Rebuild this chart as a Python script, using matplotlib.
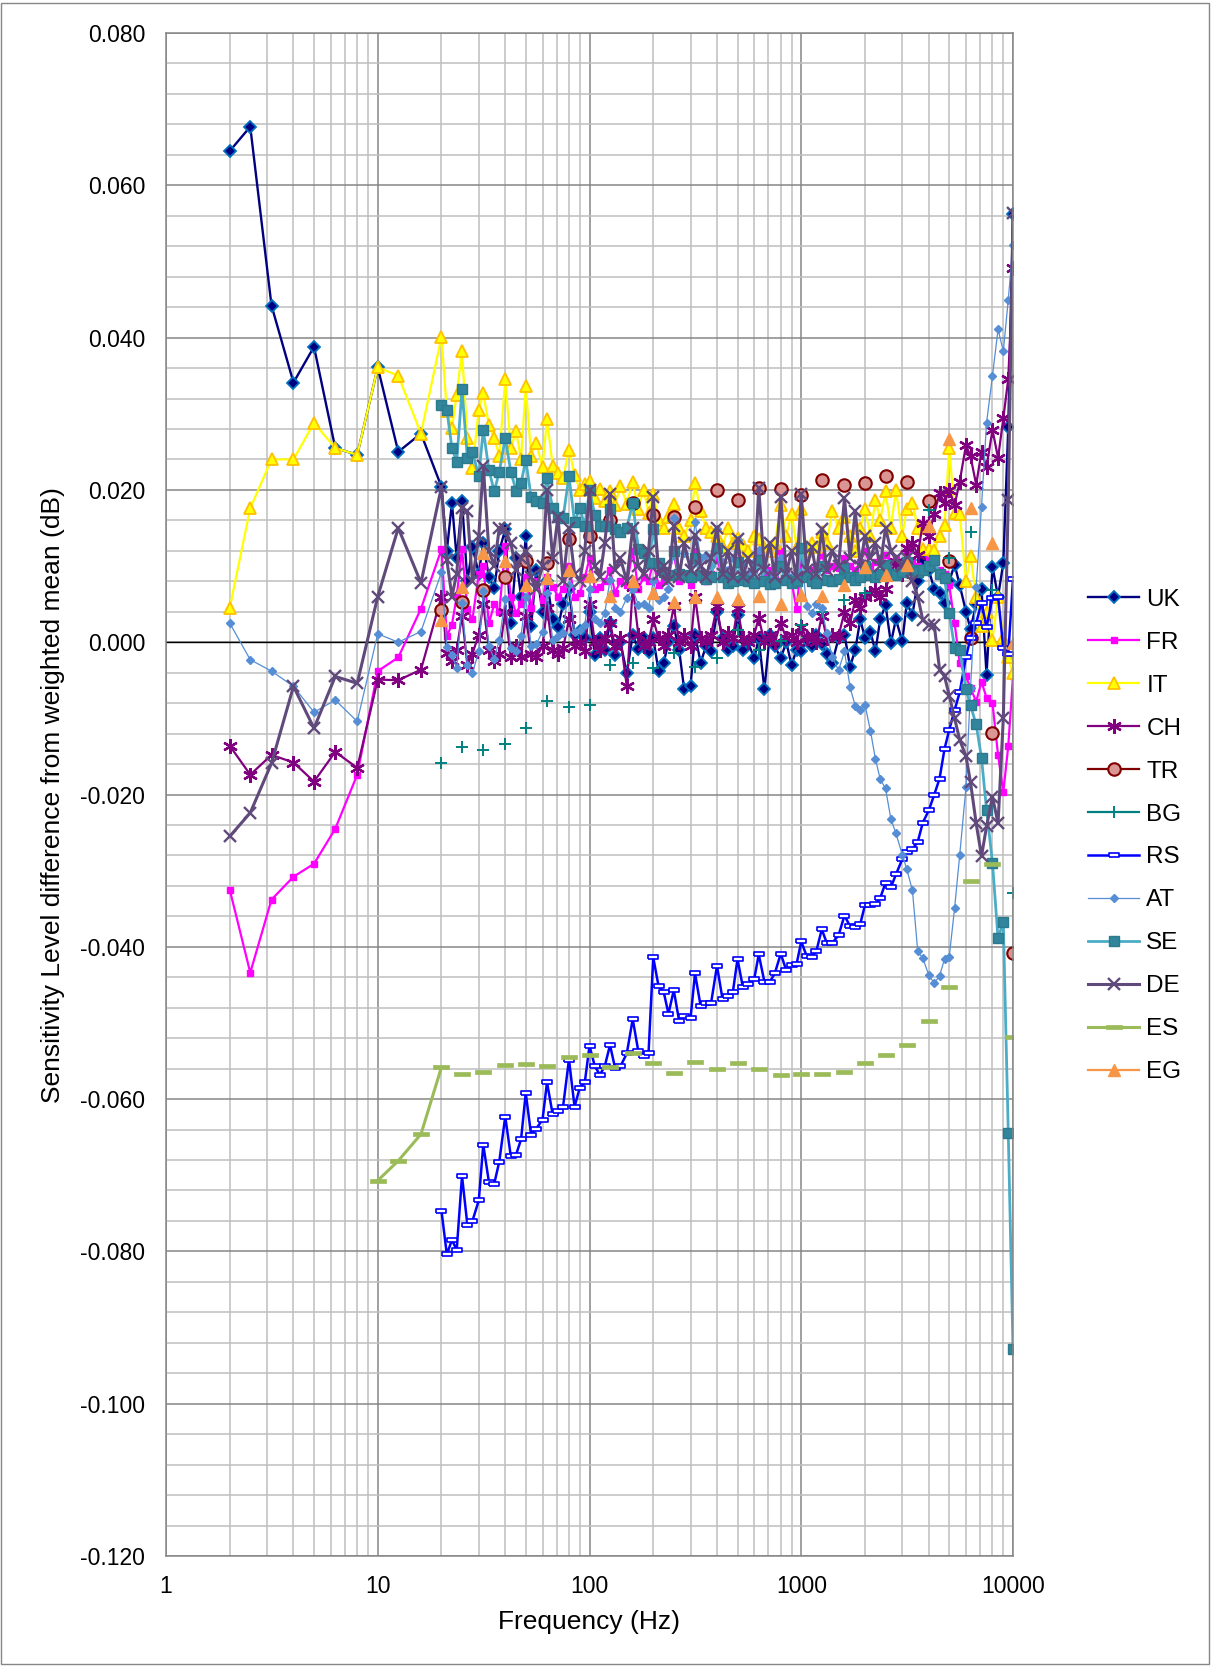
import numpy as np
import matplotlib
matplotlib.use("Agg")
import matplotlib.pyplot as plt
from matplotlib.ticker import FixedLocator, MultipleLocator, LogLocator, FuncFormatter, NullFormatter
from matplotlib.patches import Rectangle

plt.rcParams['font.family'] = ['Liberation Sans', 'DejaVu Sans']

# frequency grid: third octaves below 20 Hz, twelfth octaves from 20 Hz
freq_low = [2, 2.5, 3.15, 4, 5, 6.3, 8, 10, 12.5, 16]
freq_high = [20, 21.2, 22.4, 23.6, 25, 26.5, 28, 30, 31.5, 33.5, 35.5, 37.5,
             40, 42.5, 45, 47.5, 50, 53, 56, 60, 63, 67, 71, 75, 80, 85, 90, 95,
             100, 106, 112, 118, 125, 132, 140, 150, 160, 170, 180, 190,
             200, 212, 224, 236, 250, 265, 280, 300, 315, 335, 355, 375,
             400, 425, 450, 475, 500, 530, 560, 600, 630, 670, 710, 750,
             800, 850, 900, 950, 1000, 1060, 1120, 1180, 1250, 1320, 1400, 1500,
             1600, 1700, 1800, 1900, 2000, 2120, 2240, 2360, 2500, 2650, 2800, 3000,
             3150, 3350, 3550, 3750, 4000, 4250, 4500, 4750, 5000, 5300, 5600, 6000,
             6300, 6700, 7100, 7500, 8000, 8500, 9000, 9500, 10000]
freq = freq_low + freq_high

freq_third = [20, 25, 31.5, 40, 50, 63, 80, 100, 125, 160, 200, 250, 315, 400,
              500, 630, 800, 1000, 1250, 1600, 2000, 2500, 3150, 4000, 5000,
              6300, 8000, 10000]
freq_es = [10, 12.5, 16] + freq_third

uk = [0.0645, 0.0677, 0.0442, 0.0341, 0.0388, 0.0255, 0.0246, 0.0361, 0.0250, 0.0274,
      0.0204, 0.0120, 0.0183, 0.0110, 0.0185, 0.0080, 0.0125, 0.0090,
      0.0130, 0.0085, 0.0071, 0.0120, 0.0148, 0.0025, 0.0110, 0.0060,
      0.0139, 0.0021, 0.0095, 0.0040, 0.0080, 0.0030, 0.0020, 0.0050,
      0.0070, 0.0010, 0.0015, 0.0005, 0.0040, -0.0017, 0.0005, -0.0010,
      0.0025, -0.0017, 0.0000, -0.0041, 0.0010, -0.0009, 0.0005, -0.0013,
      0.0005, -0.0038, -0.0027, 0.0000, 0.0021, -0.0010, -0.0062, -0.0058,
      0.0010, -0.0027, -0.0005, -0.0012, 0.0040, 0.0005, -0.0010, -0.0005,
      0.0036, -0.0010, 0.0000, -0.0021, 0.0005, -0.0062, 0.0010, -0.0005,
      -0.0021, 0.0000, -0.0030, -0.0010, -0.0012, 0.0003, -0.0005, 0.0010,
      -0.0003, -0.0015, -0.0027, 0.0005, 0.0010, -0.0032, -0.0010, 0.0030,
      0.0005, 0.0014, -0.0012, 0.0030, 0.0049, -0.0001, 0.0030, 0.0001,
      0.0051, 0.0036, 0.0080, 0.0108, 0.0095, 0.0070, 0.0064, 0.0052,
      0.0080, 0.0102, 0.0075, 0.0040, 0.0017, 0.0050, 0.0070, -0.0043,
      0.0099, 0.0060, 0.0104, 0.0283, 0.0562]

fr = [-0.0325, -0.0434, -0.0338, -0.0308, -0.0291, -0.0245, -0.0174, -0.0038, -0.0020, 0.0044,
      0.0122, 0.0008, 0.0023, 0.0060, 0.0122, 0.0043, 0.0030, 0.0090,
      0.0100, 0.0025, 0.0050, 0.0040, 0.0126, 0.0060, 0.0038, 0.0050,
      0.0086, 0.0045, 0.0080, 0.0055, 0.0086, 0.0073, 0.0060, 0.0070,
      0.0100, 0.0060, 0.0064, 0.0085, 0.0110, 0.0070, 0.0073, 0.0080,
      0.0095, 0.0065, 0.0080, 0.0075, 0.0120, 0.0070, 0.0085, 0.0080,
      0.0105, 0.0075, 0.0080, 0.0090, 0.0115, 0.0080, 0.0085, 0.0075,
      0.0120, 0.0085, 0.0080, 0.0090, 0.0110, 0.0085, 0.0095, 0.0080,
      0.0125, 0.0090, 0.0085, 0.0095, 0.0115, 0.0090, 0.0095, 0.0085,
      0.0120, 0.0095, 0.0080, 0.0043, 0.0105, 0.0090, 0.0095, 0.0100,
      0.0115, 0.0095, 0.0100, 0.0098, 0.0110, 0.0100, 0.0095, 0.0105,
      0.0120, 0.0100, 0.0105, 0.0110, 0.0115, 0.0105, 0.0110, 0.0100,
      0.0120, 0.0105, 0.0100, 0.0095, 0.0110, 0.0100, 0.0095, 0.0090,
      0.0075, 0.0025, -0.0027, -0.0045, -0.0060, -0.0078, -0.0052, -0.0073,
      -0.0080, -0.0148, -0.0197, -0.0136, -0.0045]

it = [0.0045, 0.0176, 0.0240, 0.0240, 0.0288, 0.0255, 0.0246, 0.0361, 0.0350, 0.0274,
      0.0401, 0.0303, 0.0281, 0.0325, 0.0382, 0.0268, 0.0229, 0.0305,
      0.0327, 0.0285, 0.0268, 0.0245, 0.0345, 0.0255, 0.0277, 0.0240,
      0.0336, 0.0245, 0.0262, 0.0230, 0.0293, 0.0232, 0.0222, 0.0215,
      0.0253, 0.0220, 0.0200, 0.0208, 0.0212, 0.0190, 0.0201, 0.0185,
      0.0198, 0.0180, 0.0205, 0.0182, 0.0211, 0.0175, 0.0200, 0.0170,
      0.0195, 0.0160, 0.0150, 0.0165, 0.0182, 0.0150, 0.0140, 0.0160,
      0.0209, 0.0172, 0.0150, 0.0145, 0.0139, 0.0125, 0.0150, 0.0130,
      0.0137, 0.0128, 0.0120, 0.0140, 0.0135, 0.0125, 0.0120, 0.0130,
      0.0180, 0.0140, 0.0169, 0.0125, 0.0175, 0.0120, 0.0130, 0.0125,
      0.0145, 0.0130, 0.0172, 0.0150, 0.0165, 0.0140, 0.0120, 0.0150,
      0.0175, 0.0140, 0.0187, 0.0160, 0.0198, 0.0150, 0.0200, 0.0140,
      0.0175, 0.0183, 0.0150, 0.0122, 0.0122, 0.0121, 0.0140, 0.0154,
      0.0255, 0.0170, 0.0169, 0.0080, 0.0113, 0.0060, 0.0021, 0.0040,
      0.0003, 0.0060, 0.0005, -0.0020, -0.0041]

ch = [-0.0136, -0.0174, -0.0148, -0.0158, -0.0183, -0.0144, -0.0165, -0.0049, -0.0050, -0.0036,
      0.0060, -0.0014, -0.0025, -0.0010, 0.0035, -0.0030, -0.0015, 0.0010,
      0.0050, -0.0010, -0.0025, -0.0015, 0.0040, -0.0020, -0.0005, -0.0020,
      0.0035, -0.0015, -0.0020, -0.0005, 0.0045, -0.0010, -0.0015, -0.0008,
      0.0030, -0.0005, 0.0000, -0.0012, 0.0050, 0.0000, -0.0010, 0.0005,
      0.0025, -0.0005, 0.0005, -0.0058, 0.0073, 0.0010, -0.0005, 0.0000,
      0.0030, 0.0005, -0.0005, 0.0010, 0.0047, 0.0000, 0.0010, -0.0005,
      0.0060, 0.0005, 0.0000, 0.0010, 0.0047, 0.0000, 0.0012, 0.0005,
      0.0045, 0.0005, 0.0000, 0.0010, 0.0032, 0.0000, 0.0010, 0.0000,
      0.0025, 0.0005, 0.0010, 0.0000, 0.0020, 0.0005, 0.0010, 0.0000,
      0.0035, 0.0005, 0.0010, 0.0008, 0.0040, 0.0025, 0.0056, 0.0045,
      0.0060, 0.0064, 0.0069, 0.0060, 0.0070, 0.0090, 0.0105, 0.0090,
      0.0124, 0.0130, 0.0115, 0.0156, 0.0140, 0.0169, 0.0196, 0.0183,
      0.0200, 0.0180, 0.0211, 0.0259, 0.0244, 0.0207, 0.0250, 0.0230,
      0.0279, 0.0242, 0.0294, 0.0346, 0.0491]

rs = [None] * 10 + [
      -0.0747, -0.0804, -0.0785, -0.0798, -0.0701, -0.0765, -0.0760, -0.0733,
      -0.0660, -0.0709, -0.0711, -0.0682, -0.0623, -0.0675, -0.0673, -0.0653,
      -0.0592, -0.0647, -0.0639, -0.0627, -0.0578, -0.0620, -0.0615, -0.0610,
      -0.0548, -0.0610, -0.0585, -0.0578, -0.0530, -0.0557, -0.0568, -0.0557,
      -0.0529, -0.0559, -0.0557, -0.0540, -0.0495, -0.0537, -0.0543, -0.0540,
      -0.0414, -0.0452, -0.0459, -0.0488, -0.0457, -0.0497, -0.0491, -0.0494,
      -0.0435, -0.0478, -0.0474, -0.0474, -0.0425, -0.0469, -0.0464, -0.0460,
      -0.0416, -0.0453, -0.0449, -0.0442, -0.0410, -0.0446, -0.0446, -0.0435,
      -0.0409, -0.0431, -0.0424, -0.0423, -0.0393, -0.0412, -0.0414, -0.0405,
      -0.0377, -0.0395, -0.0395, -0.0385, -0.0359, -0.0373, -0.0374, -0.0370,
      -0.0345, -0.0345, -0.0344, -0.0336, -0.0316, -0.0322, -0.0305, -0.0285,
      -0.0276, -0.0272, -0.0262, -0.0237, -0.0221, -0.0200, -0.0179, -0.0140,
      -0.0115, -0.0089, -0.0066, -0.0019, 0.0005, 0.0025, 0.0052, 0.0020,
      0.0058, 0.0060, -0.0008, -0.0015, 0.0083]

at = [0.0025, -0.0023, -0.0038, -0.0058, -0.0092, -0.0076, -0.0104, 0.0011, 0.0000, 0.0014,
      0.0092, -0.0006, -0.0017, -0.0034, 0.0052, -0.0030, -0.0041, -0.0012,
      0.0067, -0.0005, -0.0022, 0.0003, 0.0057, -0.0008, -0.0012, 0.0008,
      0.0060, -0.0005, -0.0003, 0.0014, 0.0064, 0.0003, 0.0008, 0.0012,
      0.0075, 0.0013, 0.0016, 0.0023, 0.0070, 0.0030, 0.0025, 0.0038,
      0.0082, 0.0045, 0.0040, 0.0058, 0.0070, 0.0049, 0.0050, 0.0045,
      0.0080, 0.0056, 0.0060, 0.0070, 0.0163, 0.0090, 0.0117, 0.0100,
      0.0158, 0.0110, 0.0115, 0.0100, 0.0148, 0.0105, 0.0095, 0.0110,
      0.0134, 0.0100, 0.0090, 0.0105, 0.0121, 0.0095, 0.0085, 0.0100,
      0.0110, 0.0090, 0.0085, 0.0095, 0.0119, 0.0047, 0.0038, 0.0050,
      0.0045, 0.0012, -0.0019, -0.0037, -0.0012, -0.0059, -0.0084, -0.0089,
      -0.0082, -0.0116, -0.0153, -0.0180, -0.0192, -0.0232, -0.0251, -0.0279,
      -0.0298, -0.0326, -0.0406, -0.0415, -0.0437, -0.0448, -0.0438, -0.0416,
      -0.0413, -0.0349, -0.0280, -0.0190, -0.0060, 0.0073, 0.0178, 0.0288,
      0.0350, 0.0411, 0.0382, 0.0450, 0.0522]

se = [None] * 10 + [
      0.0312, 0.0305, 0.0255, 0.0237, 0.0332, 0.0242, 0.0250, 0.0218,
      0.0279, 0.0226, 0.0198, 0.0224, 0.0268, 0.0224, 0.0199, 0.0209,
      0.0239, 0.0191, 0.0185, 0.0183, 0.0215, 0.0176, 0.0165, 0.0163,
      0.0218, 0.0158, 0.0176, 0.0153, 0.0200, 0.0167, 0.0152, 0.0153,
      0.0175, 0.0148, 0.0145, 0.0150, 0.0183, 0.0123, 0.0117, 0.0104,
      0.0148, 0.0104, 0.0092, 0.0088, 0.0120, 0.0090, 0.0088, 0.0085,
      0.0110, 0.0088, 0.0083, 0.0086, 0.0124, 0.0085, 0.0078, 0.0080,
      0.0105, 0.0082, 0.0080, 0.0078, 0.0108, 0.0080, 0.0076, 0.0078,
      0.0100, 0.0082, 0.0078, 0.0080, 0.0124, 0.0085, 0.0080, 0.0078,
      0.0100, 0.0082, 0.0080, 0.0083, 0.0097, 0.0085, 0.0082, 0.0086,
      0.0100, 0.0088, 0.0085, 0.0090, 0.0102, 0.0090, 0.0088, 0.0092,
      0.0105, 0.0095, 0.0092, 0.0095, 0.0100, 0.0108, 0.0090, 0.0084,
      0.0038, -0.0008, -0.0010, -0.0062, -0.0083, -0.0108, -0.0152, -0.0220,
      -0.0290, -0.0389, -0.0367, -0.0645, -0.0928]

de = [-0.0255, -0.0224, -0.0159, -0.0058, -0.0113, -0.0045, -0.0054, 0.0060, 0.0150, 0.0078,
      0.0204, 0.0108, 0.0060, 0.0090, 0.0176, 0.0172, 0.0080, 0.0140,
      0.0231, 0.0120, 0.0100, 0.0150, 0.0148, 0.0130, 0.0095, 0.0110,
      0.0120, 0.0085, 0.0070, 0.0100, 0.0200, 0.0110, 0.0165, 0.0080,
      0.0150, 0.0090, 0.0080, 0.0120, 0.0200, 0.0100, 0.0085, 0.0130,
      0.0194, 0.0095, 0.0110, 0.0080, 0.0150, 0.0100, 0.0090, 0.0120,
      0.0191, 0.0090, 0.0100, 0.0080, 0.0152, 0.0085, 0.0130, 0.0095,
      0.0141, 0.0100, 0.0085, 0.0110, 0.0150, 0.0090, 0.0120, 0.0085,
      0.0135, 0.0085, 0.0110, 0.0090, 0.0202, 0.0095, 0.0130, 0.0085,
      0.0191, 0.0090, 0.0120, 0.0085, 0.0194, 0.0095, 0.0125, 0.0090,
      0.0148, 0.0095, 0.0120, 0.0100, 0.0189, 0.0110, 0.0172, 0.0100,
      0.0140, 0.0110, 0.0130, 0.0100, 0.0150, 0.0120, 0.0110, 0.0100,
      0.0110, 0.0080, 0.0060, 0.0029, 0.0023, 0.0022, -0.0036, -0.0045,
      -0.0070, -0.0100, -0.0128, -0.0150, -0.0184, -0.0238, -0.0281, -0.0242,
      -0.0203, -0.0238, -0.0100, 0.0187, 0.0563]

# series reported only at third-octave frequencies
tr = [0.0042, 0.0053, 0.0068, 0.0086, 0.0106, 0.0104, 0.0135, 0.0140, 0.0160, 0.0183,
      0.0167, 0.0164, 0.0178, 0.0200, 0.0187, 0.0202, 0.0201, 0.0193, 0.0213, 0.0207,
      0.0209, 0.0218, 0.0211, 0.0185, 0.0107, 0.0005, -0.0119, -0.0408]
bg = [-0.0158, -0.0138, -0.0142, -0.0134, -0.0113, -0.0077, -0.0085, -0.0082, -0.0030, -0.0027,
      -0.0034, -0.0014, -0.0032, -0.0021, 0.0016, -0.0010, 0.0001, 0.0023, 0.0040, 0.0056,
      0.0065, 0.0085, 0.0100, 0.0174, 0.0110, 0.0145, 0.0068, -0.0329]
eg = [0.0029, 0.0072, 0.0117, 0.0106, 0.0075, 0.0084, 0.0095, 0.0087, 0.0061, 0.0081,
      0.0065, 0.0053, 0.0059, 0.0059, 0.0057, 0.0061, 0.0050, 0.0062, 0.0061, 0.0075,
      0.0099, 0.0088, 0.0102, 0.0153, 0.0267, 0.0176, 0.0130, -0.0001]
es = [-0.0707, -0.0681, -0.0646,
      -0.0558, -0.0567, -0.0564, -0.0555, -0.0554, -0.0556, -0.0545, -0.0542, -0.0558, -0.0539,
      -0.0553, -0.0566, -0.0551, -0.0561, -0.0553, -0.0560, -0.0569, -0.0567, -0.0567, -0.0564,
      -0.0552, -0.0542, -0.0529, -0.0497, -0.0453, -0.0314, -0.0291, -0.0519]


def on_grid(f_list, vals):
    # place values on the common frequency grid, gaps elsewhere
    pos = {f: i for i, f in enumerate(freq)}
    out = np.full(len(freq), np.nan)
    for f, v in zip(f_list, vals):
        out[pos[f]] = v
    return out


dash = [(-1, -0.25), (1, -0.25), (1, 0.25), (-1, 0.25), (-1, -0.25)]
slot = [(-1, -0.4), (1, -0.4), (1, 0.4), (-1, 0.4), (-1, -0.4)]
asterisk = (6, 2, 0)

series = [
    ("UK", uk, dict(color='#000080', lw=1.7, marker='D', ms=6.2, mfc='#000080', mec='#0070C0', mew=1.3)),
    ("FR", fr, dict(color='#FF00FF', lw=1.6, marker='s', ms=4.5, mfc='#FF00FF', mec='#FF00FF')),
    ("IT", it, dict(color='#FFFF00', lw=1.6, marker='^', ms=9, mfc='#FFFF00', mec='#FFC000', mew=1.3)),
    ("CH", ch, dict(color='#800080', lw=1.6, marker=asterisk, ms=10.5, mec='#800080', mew=1.7)),
    ("TR", on_grid(freq_third, tr), dict(color='#800000', lw=1.6, marker='o', ms=9, mfc='#D99694', mec='#800000', mew=1.5)),
    ("BG", on_grid(freq_third, bg), dict(color='#008080', lw=1.6, marker='+', ms=9, mec='#008080', mew=1.4)),
    ("RS", rs, dict(color='#0000FF', lw=1.8, marker=slot, ms=7, mfc='white', mec='#0000FF', mew=1.2)),
    ("AT", at, dict(color='#558ED5', lw=0.9, marker='D', ms=4, mfc='#558ED5', mec='#558ED5')),
    ("SE", se, dict(color='#4BACC6', lw=2.0, marker='s', ms=6.5, mfc='#31859C', mec='#2C7A8E', mew=1.0)),
    ("DE", de, dict(color='#604A7B', lw=2.2, marker='x', ms=9, mec='#604A7B', mew=1.7)),
    ("ES", on_grid(freq_es, es), dict(color='#9BBB59', lw=2.2, marker=dash, ms=11, mfc='#9BBB59', mec='#9BBB59', mew=0.5)),
    ("EG", on_grid(freq_third, eg), dict(color='#F79646', lw=1.6, marker='^', ms=8, mfc='#F79646', mec='#F79646')),
]

fig = plt.figure(figsize=(12.11, 16.66), dpi=100)
ax = fig.add_axes([166 / 1211, 1 - 1556 / 1666, 847 / 1211, 1523 / 1666])

handles = []
for name, vals, style in series:
    h, = ax.plot(freq, np.array(vals, dtype=float), label=name, **style)
    handles.append(h)

ax.axhline(0, color='black', lw=1.0, zorder=1.5)

ax.set_xscale('log')
ax.set_xlim(1, 10000)
ax.set_ylim(-0.12, 0.08)
ax.xaxis.set_major_locator(FixedLocator([1, 10, 100, 1000, 10000]))
ax.xaxis.set_minor_locator(LogLocator(base=10, subs=np.arange(2, 10)))
ax.xaxis.set_major_formatter(FuncFormatter(lambda v, p: '%g' % v))
ax.xaxis.set_minor_formatter(NullFormatter())
ax.yaxis.set_major_locator(MultipleLocator(0.02))
ax.yaxis.set_minor_locator(MultipleLocator(0.004))
ax.yaxis.set_major_formatter(FuncFormatter(lambda v, p: '%.3f' % v))

ax.set_axisbelow(True)
ax.grid(which='major', color='#868686', lw=1.1)
ax.grid(which='minor', color='#BFBFBF', lw=1.1)
for s in ax.spines.values():
    s.set_color('#868686')
    s.set_linewidth(1.1)

ax.tick_params(which='both', length=0)
ax.tick_params(axis='y', labelsize=16.5, pad=15)
ax.tick_params(axis='x', labelsize=16.5, pad=14)

fig.text(589.5 / 1211, 1 - 1622 / 1666, 'Frequency (Hz)', ha='center', va='center', fontsize=19)
fig.text(53 / 1211, 1 - 795 / 1666, 'Sensitivity Level difference from weighted mean (dB)',
         ha='center', va='center', rotation=90, fontsize=19)

fig.legend(handles=handles, loc='center left', bbox_to_anchor=(1088 / 1211, 1 - 836 / 1666),
           frameon=False, fontsize=17.5, handlelength=2.1, handletextpad=0.3,
           labelspacing=0.86, borderpad=0, borderaxespad=0, numpoints=1)

fig.patches.append(Rectangle((0.001, 0.001), 0.997, 0.997, transform=fig.transFigure,
                             fill=False, edgecolor='#868686', lw=1.0))

fig.savefig('out.png', dpi=100)
